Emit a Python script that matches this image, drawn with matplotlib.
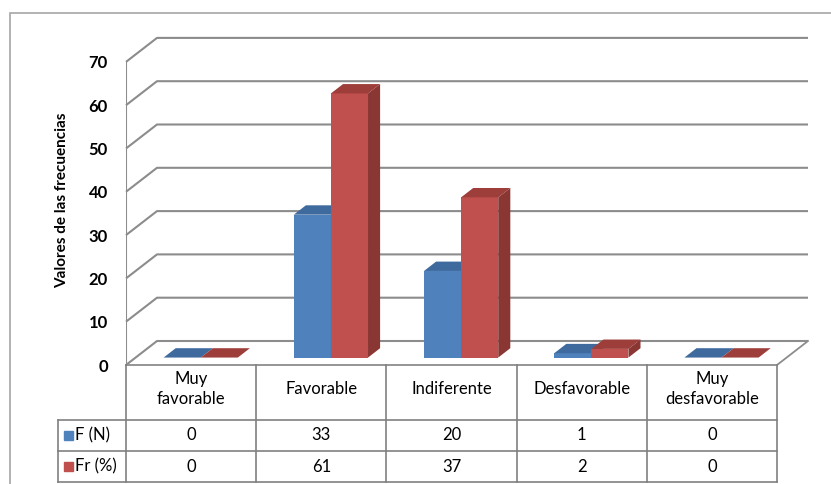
import matplotlib.pyplot as plt
import matplotlib.patches as mpatches
import numpy as np

# opinion categories and the two frequency series
categorias = ["Muy\nfavorable", "Favorable", "Indiferente", "Desfavorable", "Muy\ndesfavorable"]
f_n = [0, 33, 20, 1, 0]
fr_pct = [0, 61, 37, 2, 0]
series = [("F (N)", f_n), ("Fr (%)", fr_pct)]
yticks = [0, 10, 20, 30, 40, 50, 60, 70]

# colors (front, top, side) for each series
colores = [("#4F81BD", "#3E6A9E", "#30557F"),
           ("#C0504D", "#9E3E3B", "#8A3633")]
linea = "#8C8C8C"
plt.rcParams['font.family'] = ['Lato', 'DejaVu Sans']

W, H = 831, 484
fig = plt.figure(figsize=(W / 100, H / 100), dpi=100)

# px helpers for placing axes
def fx(px):
    return px / W
def fy(px):
    return 1 - px / H

col_px = 130.2
unit_px = 4.33
dx = 31 / col_px          # depth shift in category units
dy = 24 / unit_px         # depth shift in value units
xmax = 5 + dx
ymax = 70 + dy

ax = fig.add_axes([fx(126), fy(365), xmax * col_px / W, ymax * unit_px / H])
ax.set_xlim(0, xmax)
ax.set_ylim(0, ymax)
for s in ax.spines.values():
    s.set_visible(False)
ax.set_xticks([])
ax.set_yticks(yticks)
ax.set_yticklabels([str(v) for v in yticks], fontsize=12, fontweight='bold')
ax.tick_params(axis='y', length=0, pad=13)
ax.set_facecolor('none')

# walls: gridlines on the back wall plus diagonals on the side wall
for v in yticks:
    ax.plot([0, dx, xmax], [v, v + dy, v + dy], color=linea, lw=1.5, zorder=1,
            clip_on=False, solid_capstyle='butt')
ax.plot([0, 0], [0, 70], color=linea, lw=1.5, zorder=1)
# floor edges
ax.plot([0, 5, 5 + dx], [0, 0, dy], color=linea, lw=1.3, zorder=1, clip_on=False)

# bars
bw = 0.285
f0, depth = 0.31, 0.39
for i in range(len(categorias)):
    xc = i + 0.5 + f0 * dx
    for k, (nombre, vals) in enumerate(series):
        v = vals[i]
        front, top, side = colores[k]
        x0 = xc - bw + k * bw
        x1 = x0 + bw
        b = f0 * dy
        ddx, ddy = depth * dx, depth * dy
        ax.bar(x0, v, width=bw, bottom=b, align='edge', color=front,
               edgecolor='none', zorder=3 + k)
        ax.fill([x0, x1, x1 + ddx, x0 + ddx], [b + v, b + v, b + v + ddy, b + v + ddy],
                color=top, lw=0, zorder=3 + k)
        ax.fill([x1, x1 + ddx, x1 + ddx, x1], [b, b + ddy, b + v + ddy, b + v],
                color=side, lw=0, zorder=3 + k)

# data table under the chart
tab = fig.add_axes([fx(126), fy(482), xmax * col_px / W, (482 - 365) / H])
tab.set_xlim(0, xmax)
tab.set_ylim(117, 0)
tab.axis('off')
filas = [0, 55, 86, 117]
xh = -68 / col_px
tl = dict(color="#808080", lw=1.2, clip_on=False)
for c in range(6):
    tab.plot([c, c], [0, 117], **tl)
for r in filas[1:]:
    tab.plot([xh, 5], [r, r], **tl)
tab.plot([xh, xh], [55, 117], **tl)

for i, cat in enumerate(categorias):
    tab.text(i + 0.5, 24, cat, ha='center', va='center', fontsize=12,
             linespacing=1.25, clip_on=False)
for k, (nombre, vals) in enumerate(series):
    yc = (filas[k + 1] + filas[k + 2]) / 2
    for i, v in enumerate(vals):
        tab.text(i + 0.5, yc, str(v), ha='center', va='center', fontsize=12)
    tab.add_patch(mpatches.Rectangle((xh + 6 / col_px, yc - 4.5), 9 / col_px, 9,
                                     color=colores[k][0], clip_on=False))
    tab.text(xh + 17 / col_px, yc, nombre, ha='left', va='center', fontsize=12,
             clip_on=False)

fig.text(fx(62), fy(200), "Valores de las frecuencias", rotation=90, ha='center',
         va='center', fontsize=11, fontweight='bold')

# outer chart border
fig.add_artist(mpatches.Rectangle((fx(10), -0.1), 1.2, fy(13) + 0.1, fill=False,
                                  edgecolor='#A6A6A6', lw=1.2,
                                  transform=fig.transFigure))

fig.savefig("out.png", dpi=100)
